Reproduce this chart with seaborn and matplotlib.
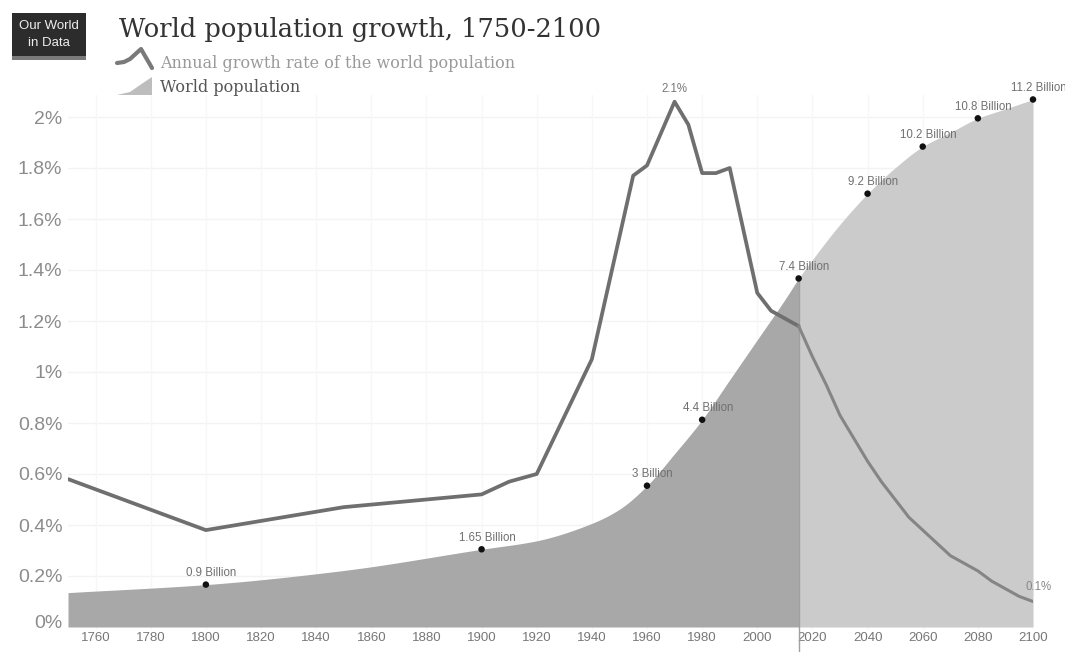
import numpy as np
import pandas as pd
import matplotlib
matplotlib.use("Agg")
import matplotlib.pyplot as plt
from matplotlib.patches import Rectangle, Polygon
from matplotlib.lines import Line2D
from matplotlib.transforms import ScaledTranslation
import seaborn as sns

# Annual growth rate of the world population (%), history and projection
growth_years_hist = [1750, 1800, 1850, 1900, 1910, 1920, 1940, 1955, 1960, 1970,
                     1975, 1980, 1985, 1990, 2000, 2005, 2015]
growth_hist = [0.58, 0.38, 0.47, 0.52, 0.57, 0.60, 1.05, 1.77, 1.81, 2.06,
               1.97, 1.78, 1.78, 1.80, 1.31, 1.24, 1.18]
growth_years_proj = [2015, 2020, 2025, 2030, 2035, 2040, 2045, 2050, 2055, 2060,
                     2065, 2070, 2075, 2080, 2085, 2090, 2095, 2100]
growth_proj = [1.18, 1.06, 0.95, 0.83, 0.74, 0.65, 0.57, 0.50, 0.43, 0.38,
               0.33, 0.28, 0.25, 0.22, 0.18, 0.15, 0.12, 0.10]

# World population (billions)
pop_years = [1750, 1800, 1850, 1900, 1920, 1940, 1950, 1960, 1970, 1980, 1990,
             2000, 2010, 2015, 2020, 2030, 2040, 2050, 2060, 2070, 2080, 2090, 2100]
pop_values = [0.73, 0.9, 1.2, 1.65, 1.83, 2.2, 2.5, 3.0, 3.68, 4.4, 5.25,
              6.1, 6.95, 7.4, 7.8, 8.55, 9.2, 9.75, 10.2, 10.5, 10.8, 11.0, 11.2]

# Labelled population milestones
milestone_years = [1800, 1900, 1960, 1980, 2015, 2040, 2060, 2080, 2100]
milestone_values = [0.9, 1.65, 3.0, 4.4, 7.4, 9.2, 10.2, 10.8, 11.2]
milestone_labels = ["0.9 Billion", "1.65 Billion", "3 Billion", "4.4 Billion",
                    "7.4 Billion", "9.2 Billion", "10.2 Billion", "10.8 Billion",
                    "11.2 Billion"]

x_ticks = list(range(1760, 2101, 20))
y_ticks = [0, 0.2, 0.4, 0.6, 0.8, 1.0, 1.2, 1.4, 1.6, 1.8, 2.0]
y_tick_labels = ["0%", "0.2%", "0.4%", "0.6%", "0.8%", "1%", "1.2%", "1.4%",
                 "1.6%", "1.8%", "2%"]

title = "World population growth, 1750-2100"
legend_labels = ["Annual growth rate of the world population", "World population"]
split_year = 2015


def pchip(x, y, xi):
    """Monotone cubic (Fritsch-Carlson) interpolation."""
    x = np.asarray(x, float)
    y = np.asarray(y, float)
    h = np.diff(x)
    d = np.diff(y) / h
    m = np.zeros_like(y)
    m[0], m[-1] = d[0], d[-1]
    for k in range(1, len(x) - 1):
        if d[k - 1] * d[k] > 0:
            w1 = 2 * h[k] + h[k - 1]
            w2 = h[k] + 2 * h[k - 1]
            m[k] = (w1 + w2) / (w1 / d[k - 1] + w2 / d[k])
    idx = np.clip(np.searchsorted(x, xi) - 1, 0, len(x) - 2)
    t = (xi - x[idx]) / h[idx]
    h00 = 2 * t**3 - 3 * t**2 + 1
    h10 = t**3 - 2 * t**2 + t
    h01 = -2 * t**3 + 3 * t**2
    h11 = t**3 - t**2
    return h00 * y[idx] + h10 * h[idx] * m[idx] + h01 * y[idx + 1] + h11 * h[idx] * m[idx + 1]


sns.set_theme(style="white")
plt.rcParams["font.family"] = ["Liberation Sans", "DejaVu Sans"]

W, H = 1065, 652
fig = plt.figure(figsize=(W / 100, H / 100), dpi=100)
fig.patch.set_facecolor("white")


def px(x, y):
    """figure-pixel (from top-left) to figure fraction"""
    return x / W, 1 - y / H


# axes rectangle
left, right, top, bottom = 68, 1033, 95, 630
ax = fig.add_axes([left / W, 1 - bottom / H, (right - left) / W, (bottom - top) / H])
ax2 = ax.twinx()

RATE_MAX = 532 / 255
POP_MAX = 532 / 47.1
rate_to_pop = POP_MAX / RATE_MAX

# faint grid, drawn beneath the area
for t in y_ticks[1:]:
    ax.axhline(t * rate_to_pop, color="#f3f3f3", lw=1, zorder=0)
for t in x_ticks:
    ax.axvline(t, color="#f7f7f7", lw=1, zorder=0)

# ---- population area (primary axes, drawn underneath) ----
grid_years = np.arange(1750, 2100.01, 0.25)
smooth = pchip(pop_years, pop_values, grid_years)
hist = grid_years <= split_year
proj = grid_years >= split_year
ax.fill_between(grid_years[hist], 0, smooth[hist], color="#a8a8a8", linewidth=0, zorder=1)
ax.fill_between(grid_years[proj], 0, smooth[proj], color="#cbcbcb", linewidth=0, zorder=1)

ms = pd.DataFrame({"year": milestone_years, "pop": milestone_values})
sns.scatterplot(data=ms, x="year", y="pop", ax=ax, color="#111111", s=22,
                edgecolor="none", zorder=5, clip_on=False)
for yr, v, lab in zip(milestone_years, milestone_values, milestone_labels):
    ax.annotate(lab, (yr, v), xytext=(4, 4), textcoords="offset points",
                ha="center", va="bottom", fontsize=8.3, color="#707070",
                annotation_clip=False, zorder=6)

ax.set_xlim(1750, 2100)
ax.set_ylim(-3 / 47.1, POP_MAX)
ax.set_yticks([])
ax.set_ylabel("")
ax.set_xlabel("")
ax.set_xticks(x_ticks)
ax.set_xticklabels([str(t) for t in x_ticks])
ax.tick_params(axis="x", length=0, pad=1.5, labelsize=9.5, labelcolor="#777777")

# vertical divider between history and projection
ax.plot([split_year, split_year], [float(pchip(pop_years, pop_values, np.array([split_year]))[0]), -0.55],
        color="#a0a0a0", lw=1.0, clip_on=False, zorder=3)

# ---- growth rate line (twin axes, drawn on top) ----
gh = pd.DataFrame({"year": growth_years_hist, "rate": growth_hist})
gp = pd.DataFrame({"year": growth_years_proj, "rate": growth_proj})
sns.lineplot(data=gh, x="year", y="rate", ax=ax2, color="#6f6f6f", lw=2.7, zorder=4)
sns.lineplot(data=gp, x="year", y="rate", ax=ax2, color="#858585", lw=2.2, zorder=4)

ax2.set_ylim(-3 / 255, RATE_MAX)
ax2.set_xlim(1750, 2100)
ax2.yaxis.tick_left()
ax2.set_yticks(y_ticks)
ax2.set_yticklabels(y_tick_labels)
ax2.tick_params(axis="y", length=0, pad=4, labelsize=14, labelcolor="#8c8c8c")
ax2.set_ylabel("")
ax2.set_xlabel("")
ax2.grid(False)
zero_label = ax2.get_yticklabels()[0]
zero_label.set_transform(zero_label.get_transform() +
                         ScaledTranslation(0, 5 / 100, fig.dpi_scale_trans))

peak_i = int(np.argmax(growth_hist))
ax2.annotate(f"{round(growth_hist[peak_i], 1)}%", (growth_years_hist[peak_i], growth_hist[peak_i]),
             xytext=(0, 5), textcoords="offset points", ha="center", va="bottom",
             fontsize=8.3, color="#777777")
ax2.annotate(f"{growth_proj[-1]:.1f}%", (growth_years_proj[-1], growth_proj[-1]),
             xytext=(4, 6), textcoords="offset points", ha="center", va="bottom",
             fontsize=8.3, color="#888888", annotation_clip=False)

for a in (ax, ax2):
    for s in a.spines.values():
        s.set_visible(False)
ax2.patch.set_alpha(0)

# ---- header: logo, title, legend ----
lx0, ly0 = px(12, 60)
lx1, ly1 = px(86, 13)
fig.patches.append(Rectangle((lx0, ly0), lx1 - lx0, ly1 - ly0, transform=fig.transFigure,
                             facecolor="#2c2c2c", edgecolor="none"))
fig.patches.append(Rectangle((lx0, ly0), lx1 - lx0, 4 / H, transform=fig.transFigure,
                             facecolor="#7a7a7a", edgecolor="none"))
fig.text(*px(49, 26), "Our World", ha="center", va="center", fontsize=9.5,
         color="#eeeeee", family=["Liberation Sans Narrow", "Liberation Sans"])
fig.text(*px(49, 43), "in Data", ha="center", va="center", fontsize=9.5,
         color="#eeeeee", family=["Liberation Sans Narrow", "Liberation Sans"])

fig.text(*px(119, 29), title, ha="left", va="center", fontsize=18.5,
         color="#333333", family=["DejaVu Serif"])

# legend entries
fig.text(*px(160, 63), legend_labels[0], ha="left", va="center", fontsize=11.5,
         color="#9a9a9a", family=["DejaVu Serif"])
fig.text(*px(160, 88), legend_labels[1], ha="left", va="center", fontsize=11.5,
         color="#555555", family=["DejaVu Serif"])
icon_line = [px(117, 63), px(124, 62), px(130, 59), px(141, 49), px(152, 68)]
fig.lines.append(Line2D([p[0] for p in icon_line], [p[1] for p in icon_line],
                        transform=fig.transFigure, color="#7a7a7a", lw=3))
icon_area = [px(117, 95), px(130, 92), px(143, 83), px(152, 77), px(152, 95)]
fig.patches.append(Polygon(icon_area, closed=True, transform=fig.transFigure,
                           facecolor="#bdbdbd", edgecolor="none"))

fig.savefig("out.png", dpi=100, facecolor="white")
